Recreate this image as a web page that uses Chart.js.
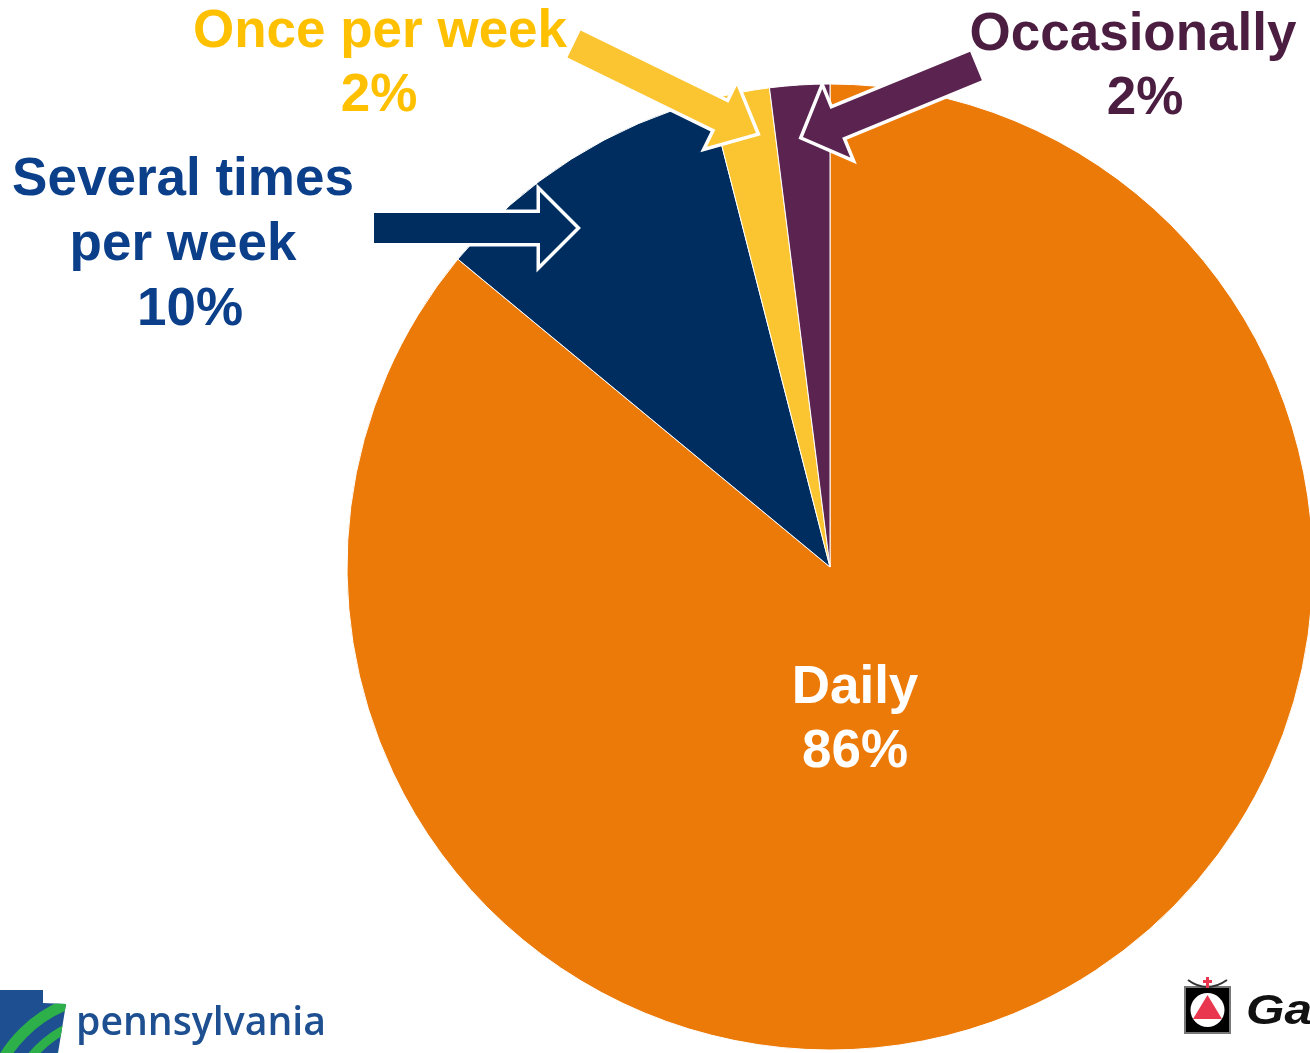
<!DOCTYPE html>
<html>
<head>
<meta charset="utf-8">
<script src="https://cdn.jsdelivr.net/npm/chart.js@4.4.0/dist/chart.umd.min.js"></script>
<style>
  html, body { margin: 0; padding: 0; background: #fff; overflow: hidden; }
  canvas { display: block; }
</style>
</head>
<body>
<canvas id="pieChart" width="1320" height="1053"></canvas>
<script>
// ---------------- data ----------------
const categories = ['Daily', 'Several times per week', 'Once per week', 'Occasionally'];
const shares = [86, 10, 2, 2];
const sliceColors = ['#EC7A08', '#002D5F', '#FBC532', '#5B2450'];
const labelLines = [['Daily'], ['Several times', 'per week'], ['Once per week'], ['Occasionally']];

// label placement (annotation only) -> x centre of each line, baselines
const labelStyle = [
  { color: '#FFFFFF', xs: [855, 855],      ys: [703, 767] },
  { color: '#0B3F8A', xs: [183, 183, 190], ys: [195, 260, 325] },
  { color: '#FFC000', xs: [380, 379],      ys: [47, 111] },
  { color: '#4B1D40', xs: [1133, 1145],    ys: [50, 114] }
];

// block arrows: tail -> tip
const arrows = [
  { color: '#002D5F', x1: 374, y1: 228, x2: 576, y2: 228, shaft: 30, headW: 72, headL: 36 },
  { color: '#FBC532', x1: 574, y1: 44,  x2: 756, y2: 133, shaft: 30, headW: 68, headL: 38 },
  { color: '#5B2450', x1: 976, y1: 66,  x2: 803, y2: 137, shaft: 31, headW: 74, headL: 36 }
];

const FONT = 'bold 53px "Liberation Sans", Arial, sans-serif';

function drawArrow(ctx, a) {
  const dx = a.x2 - a.x1, dy = a.y2 - a.y1;
  const L = Math.sqrt(dx * dx + dy * dy);
  const ang = Math.atan2(dy, dx);
  ctx.save();
  ctx.translate(a.x1, a.y1);
  ctx.rotate(ang);
  ctx.beginPath();
  ctx.moveTo(0, -a.shaft / 2);
  ctx.lineTo(L - a.headL, -a.shaft / 2);
  ctx.lineTo(L - a.headL, -a.headW / 2);
  ctx.lineTo(L, 0);
  ctx.lineTo(L - a.headL, a.headW / 2);
  ctx.lineTo(L - a.headL, a.shaft / 2);
  ctx.lineTo(0, a.shaft / 2);
  ctx.closePath();
  ctx.lineJoin = 'miter';
  ctx.strokeStyle = '#ffffff';
  ctx.lineWidth = 7;
  ctx.stroke();
  ctx.fillStyle = a.color;
  ctx.fill();
  ctx.restore();
}

function drawLogos(ctx) {
  // pennsylvania keystone
  ctx.save();
  ctx.beginPath();
  ctx.moveTo(0, 990); ctx.lineTo(43, 990); ctx.lineTo(43, 1003);
  ctx.lineTo(66, 1004); ctx.lineTo(58, 1053); ctx.lineTo(0, 1053);
  ctx.closePath();
  ctx.fillStyle = '#1D4F91';
  ctx.fill();
  ctx.clip();
  ctx.strokeStyle = '#2DB04A';
  [[88, 9], [108, 9], [130, 11]].forEach(([r, lw]) => {
    ctx.lineWidth = lw;
    ctx.beginPath();
    ctx.arc(115, 1125, r, Math.PI, Math.PI * 1.5);
    ctx.stroke();
  });
  ctx.restore();

  ctx.save();
  ctx.fillStyle = '#1D4F91';
  ctx.font = '600 100px "Open Sans", sans-serif';
  const w = ctx.measureText('pennsylvania').width;
  const size = 100 * 250 / w;
  ctx.font = '600 ' + size.toFixed(1) + 'px "Open Sans", sans-serif';
  ctx.textAlign = 'left';
  ctx.textBaseline = 'alphabetic';
  ctx.fillText('pennsylvania', 76, 1035);
  ctx.restore();

  // Gallup mark
  ctx.save();
  ctx.fillStyle = '#777';
  ctx.fillRect(1184, 986, 47, 48);
  ctx.fillStyle = '#000';
  ctx.fillRect(1186, 988, 43, 44);
  ctx.fillStyle = '#fff';
  ctx.beginPath();
  ctx.arc(1207.5, 1010, 17, 0, Math.PI * 2);
  ctx.fill();
  ctx.fillStyle = '#E8374F';
  ctx.beginPath();
  ctx.moveTo(1207.5, 995); ctx.lineTo(1222, 1019); ctx.lineTo(1193, 1019);
  ctx.closePath();
  ctx.fill();
  ctx.strokeStyle = '#333';
  ctx.lineWidth = 2;
  ctx.beginPath();
  ctx.moveTo(1188, 980); ctx.quadraticCurveTo(1207, 994, 1227, 980);
  ctx.stroke();
  ctx.fillStyle = '#E8374F';
  ctx.fillRect(1206, 977, 3, 11);
  ctx.fillRect(1203, 980, 9, 3);
  ctx.fillStyle = '#111';
  ctx.translate(1246, 1024);
  ctx.scale(1.18, 1);
  ctx.font = 'italic bold 42px "Liberation Sans", Arial, sans-serif';
  ctx.textAlign = 'left';
  ctx.fillText('Gallup', 0, 0);
  ctx.restore();
}

const annotations = {
  id: 'annotations',
  afterDatasetsDraw(chart) {
    const ctx = chart.ctx;
    ctx.save();
    arrows.forEach(a => drawArrow(ctx, a));
    ctx.font = FONT;
    ctx.textAlign = 'center';
    ctx.textBaseline = 'alphabetic';
    categories.forEach((c, i) => {
      const lines = labelLines[i].concat([shares[i] + '%']);
      const st = labelStyle[i];
      ctx.fillStyle = st.color;
      lines.forEach((t, j) => ctx.fillText(t, st.xs[j], st.ys[j]));
    });
    drawLogos(ctx);
    ctx.restore();
  }
};

const pie = document.getElementById('pieChart').getContext('2d');

new Chart(pie, {
  type: 'pie',
  data: {
    labels: categories,
    datasets: [{
      data: shares,
      backgroundColor: sliceColors,
      borderColor: '#ffffff',
      borderWidth: 1,
      radius: 483
    }]
  },
  options: {
    responsive: false,
    animation: false,
    layout: { padding: { left: 340, right: 0, top: 81, bottom: 0 } },
    plugins: {
      legend: { display: false },
      tooltip: { enabled: false }
    }
  },
  plugins: [annotations]
});
</script>
</body>
</html>
